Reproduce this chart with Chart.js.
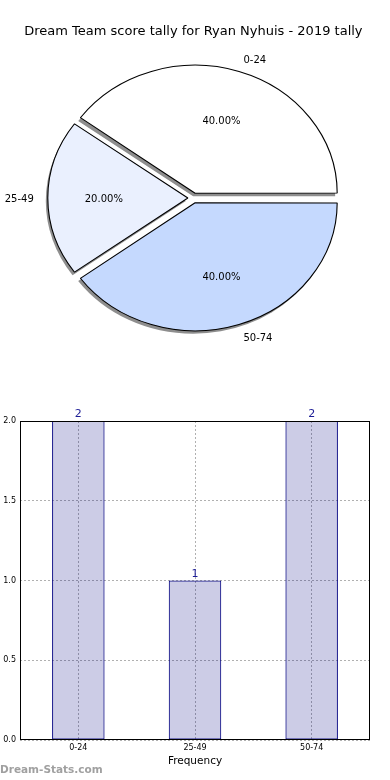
<!DOCTYPE html>
<html><head><meta charset="utf-8">
<script src="https://cdn.jsdelivr.net/npm/chart.js@4"></script>
<style>
html,body{margin:0;padding:0;background:#fff;width:390px;height:780px;overflow:hidden;}
#pieWrap{position:absolute;left:0;top:0;width:390px;height:360px;}
#barWrap{position:absolute;left:0;top:360px;width:390px;height:420px;}
#wm{position:absolute;left:0px;top:762px;font:bold 10.5px "DejaVu Sans",sans-serif;color:#a0a0a0;line-height:14px;}
</style></head><body>
<div id="pieWrap"><canvas id="pie" width="390" height="360"></canvas></div>
<div id="barWrap"><canvas id="bar" width="390" height="420"></canvas></div>
<div id="wm">Dream-Stats.com</div>
<script>
const titleText = "Dream Team score tally for Ryan Nyhuis - 2019 tally";
const categories = ["0-24", "25-49", "50-74"];
const counts = [2, 1, 2];
const sliceColors = ["#ffffff", "#eaf0fe", "#c5d9fe"];
const yTicks = [0.0, 0.5, 1.0, 1.5, 2.0];
const xAxisTitle = "Frequency";

const FONT = '"DejaVu Sans", sans-serif';
const total = counts.reduce((a, b) => a + b, 0);

// ---------- PIE ----------
const pieLabels = categories.slice().reverse();
const pieData = counts.slice().reverse();
const pieColors = sliceColors.slice().reverse();
const SX = 142 / 128;       // horizontal stretch (ellipse)
const EXPLODE = 5;          // px shift of each wedge
const SHX = -2, SHY = 3;    // shadow offset
const TEXT_DY = 1.5;        // text vertical nudge

// geometry of an arc as Chart.js draws it (translation + enlarged radius)
function geom(el) {
  const o = (el.options.offset || 0) / 4;
  const fix = 1 - Math.sin(Math.min(Math.PI, el.circumference || 0));
  const mid = (el.startAngle + el.endAngle) / 2;
  return { mid, shift: o, R: el.outerRadius + o * fix };
}

const piePlugin = {
  id: 'ellipsePie',
  beforeDatasetsDraw(chart) {
    const ctx = chart.ctx;
    const meta = chart.getDatasetMeta(0);
    const cx = meta.data[0].x;
    ctx.save();
    ctx.translate(cx, 0); ctx.scale(SX, 1); ctx.translate(-cx, 0);
    meta.data.forEach(el => {
      const g = geom(el);
      const x = el.x + Math.cos(g.mid) * g.shift + SHX / SX;
      const y = el.y + Math.sin(g.mid) * g.shift + SHY;
      ctx.beginPath();
      ctx.moveTo(x, y);
      ctx.arc(x, y, g.R, el.startAngle, el.endAngle);
      ctx.closePath();
      ctx.fillStyle = '#8e8e8e';
      ctx.fill();
    });
  },
  afterDatasetsDraw(chart) {
    const ctx = chart.ctx;
    ctx.restore();
    const meta = chart.getDatasetMeta(0);
    ctx.save();
    ctx.font = '10px ' + FONT;
    ctx.fillStyle = '#000';
    ctx.textBaseline = 'middle';
    meta.data.forEach((el, i) => {
      const g = geom(el);
      const c = Math.cos(g.mid), sn = Math.sin(g.mid);
      const bx = el.x + c * g.shift * SX, by = el.y + sn * g.shift + TEXT_DY;
      const lx = bx + c * 1.1 * g.R * SX, ly = by + sn * 1.1 * g.R;
      ctx.textAlign = c > 0 ? 'left' : 'right';
      ctx.fillText(pieLabels[i], lx, ly);
      const px = bx + c * 0.6 * g.R * SX, py = by + sn * 0.6 * g.R;
      ctx.textAlign = 'center';
      ctx.fillText((pieData[i] / total * 100).toFixed(2) + '%', px, py);
    });
    ctx.restore();
  }
};

new Chart(document.getElementById('pie'), {
  type: 'pie',
  data: {
    labels: pieLabels,
    datasets: [{
      data: pieData,
      backgroundColor: pieColors,
      borderColor: '#000',
      borderWidth: 1,
      radius: 126,
      offset: EXPLODE * 4
    }]
  },
  options: {
    responsive: false,
    animation: false,
    events: [],
    rotation: 90,
    layout: { padding: { left: 0, right: 3.2, top: 0, bottom: 3.6 } },
    plugins: {
      legend: { display: false },
      tooltip: { enabled: false },
      title: {
        display: true, text: titleText, color: '#000',
        font: { family: FONT, size: 13, weight: 'normal', lineHeight: 1.2 },
        padding: { top: 24, bottom: 0 }
      }
    }
  },
  plugins: [piePlugin]
});

// ---------- BAR ----------
const barPlugin = {
  id: 'barExtras',
  afterDatasetsDraw(chart) {
    const ctx = chart.ctx;
    const meta = chart.getDatasetMeta(0);
    ctx.save();
    ctx.font = '11px ' + FONT;
    ctx.fillStyle = '#1c1c96';
    ctx.textAlign = 'center';
    ctx.textBaseline = 'bottom';
    meta.data.forEach((el, i) => {
      ctx.fillText(String(counts[i]), el.x, el.y - 1);
    });
    const a = chart.chartArea;
    ctx.strokeStyle = '#000';
    ctx.lineWidth = 1;
    ctx.strokeRect(Math.round(a.left) + 0.5, Math.round(a.top) + 0.5,
                   Math.round(a.right - a.left) - 1, Math.round(a.bottom - a.top) - 1);
    ctx.restore();
  }
};

new Chart(document.getElementById('bar'), {
  type: 'bar',
  data: {
    labels: categories,
    datasets: [{
      data: counts,
      backgroundColor: 'rgba(0,0,128,0.2)',
      borderColor: '#000080',
      borderWidth: 1,
      borderSkipped: false,
      barPercentage: 0.45,
      categoryPercentage: 1
    }]
  },
  options: {
    responsive: false,
    animation: false,
    events: [],
    layout: { padding: { left: 0, right: 20, top: 61, bottom: 0 } },
    plugins: { legend: { display: false }, tooltip: { enabled: false } },
    scales: {
      x: {
        afterFit: s => { s.height = 40; },
        grid: { offset: false, color: '#b0b0b0', lineWidth: 1, drawTicks: false },
        border: { display: false, dash: [2, 2] },
        ticks: { color: '#000', font: { family: FONT, size: 8 }, padding: 3.5, maxRotation: 0 },
        title: {
          display: true, text: xAxisTitle, color: '#000',
          font: { family: FONT, size: 10.5, lineHeight: 1.2 },
          padding: { top: 0, bottom: 12.5 }
        }
      },
      y: {
        min: 0, max: 2,
        afterFit: s => { s.width = 20; },
        afterBuildTicks: s => { s.ticks = yTicks.map(v => ({ value: v })); },
        grid: { color: '#b0b0b0', lineWidth: 1, drawTicks: false },
        border: { display: false, dash: [2, 2] },
        ticks: { color: '#000', font: { family: FONT, size: 8 }, padding: 4,
                 callback: v => Number(v).toFixed(1) }
      }
    }
  },
  plugins: [barPlugin]
});
</script>
</body></html>
